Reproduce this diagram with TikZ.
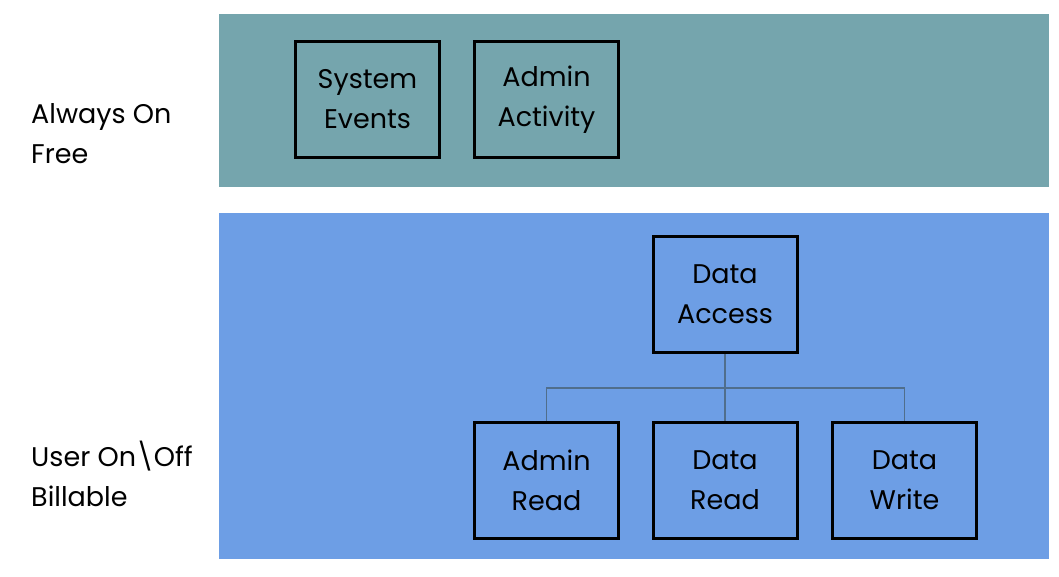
\documentclass[tikz,border=0pt]{standalone}
\usepackage{fontspec}
\setmainfont{Poppins}
\begin{document}
\begin{tikzpicture}[x=1pt,y=-1pt,
  every node/.style={font=\fontsize{27}{40}\selectfont},
  logbox/.style={draw=black,line width=3pt,minimum width=144pt,minimum height=116pt,inner sep=0pt,align=center},
  sidelabel/.style={anchor=west,align=left,inner sep=0pt},
  link/.style={draw=linkc,line width=1.5pt}]
\definecolor{topband}{RGB}{117,165,173}
\definecolor{botband}{RGB}{109,158,229}
\definecolor{linkc}{RGB}{80,110,140}
\useasboundingbox (0,0) rectangle (1059,577);
\fill[topband] (219,14) rectangle (1049,187);
\fill[botband] (219,213) rectangle (1049,559);
\node[sidelabel] (l1) at (31,134) {Always On\\Free};
\node[sidelabel] (l2) at (31,474) {User On\textbackslash Off\\Billable};
\node[logbox] (se) at (367.5,99.5) {System\\Events};
\node[logbox] (aa) at (546.5,99.5) {Admin\\Activity};
\node[logbox] (da) at (725,294.5) {Data\\Access};
\node[logbox] (ar) at (546.5,480.5) {Admin\\Read};
\node[logbox] (dr) at (725,480.5) {Data\\Read};
\node[logbox] (dw) at (904.5,480.5) {Data\\Write};
\coordinate (bus) at (725,388);
\draw[link] (ar.north) |- (bus) -| (dw.north);
\draw[link] (da.south) -- (dr.north);
\end{tikzpicture}
\end{document}
